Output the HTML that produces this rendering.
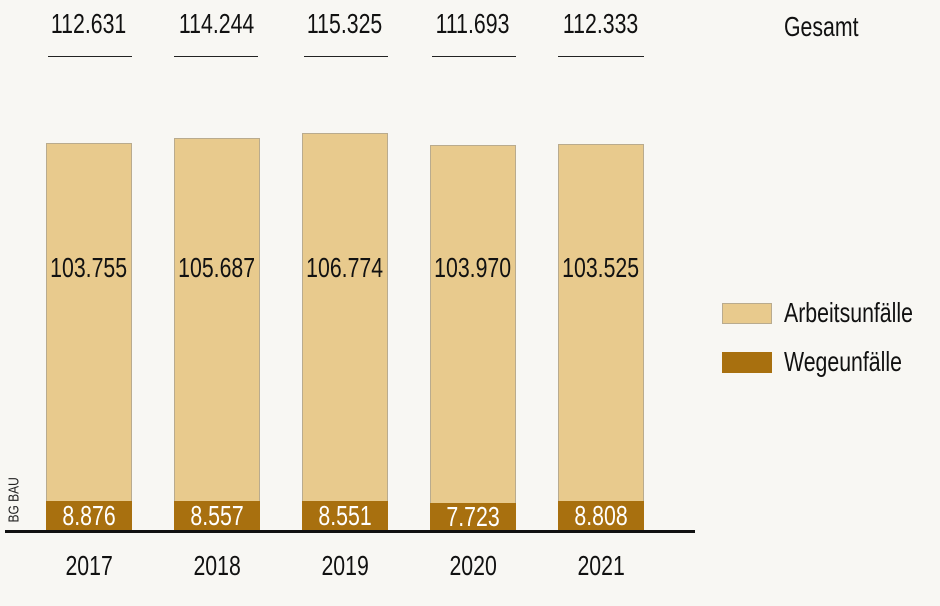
<!DOCTYPE html>
<html><head><style>
body{margin:0;width:940px;height:606px;background:#f8f7f3;position:relative;overflow:hidden;font-family:"Liberation Sans",sans-serif;}
.t{position:absolute;font-size:28px;line-height:32px;color:#111;text-align:center;white-space:nowrap;}
.t span{display:inline-block;transform:scaleX(0.76);}
.l span{transform-origin:left center;}
.bar{position:absolute;background:#e8ca8d;border:1px solid #b9ab8e;border-bottom:none;box-sizing:border-box;}
.dk{position:absolute;background:#a8700f;}
.ul{position:absolute;height:1px;background:#222;top:56px;}
</style></head><body>
<div class="bar" style="left:46px;top:143px;width:86px;height:360px"></div>
<div class="bar" style="left:174px;top:138px;width:86px;height:365px"></div>
<div class="bar" style="left:302px;top:133px;width:86px;height:370px"></div>
<div class="bar" style="left:430px;top:145px;width:86px;height:358px"></div>
<div class="bar" style="left:558px;top:144px;width:86px;height:359px"></div>
<div class="dk" style="left:46px;top:501px;width:86px;height:30px"></div>
<div class="dk" style="left:174px;top:501px;width:86px;height:30px"></div>
<div class="dk" style="left:302px;top:501px;width:86px;height:30px"></div>
<div class="dk" style="left:430px;top:503px;width:86px;height:28px"></div>
<div class="dk" style="left:558px;top:501px;width:86px;height:30px"></div>
<div class="t" style="left:36px;top:500px;width:106px;color:#fff"><span>8.876</span></div>
<div class="t" style="left:164px;top:500px;width:106px;color:#fff"><span>8.557</span></div>
<div class="t" style="left:292px;top:500px;width:106px;color:#fff"><span>8.551</span></div>
<div class="t" style="left:420px;top:501px;width:106px;color:#fff"><span>7.723</span></div>
<div class="t" style="left:548px;top:500px;width:106px;color:#fff"><span>8.808</span></div>
<div style="position:absolute;left:5px;top:530px;width:690px;height:3px;background:#111"></div>
<div class="t" style="left:36px;top:252px;width:106px"><span>103.755</span></div>
<div class="t" style="left:164px;top:252px;width:106px"><span>105.687</span></div>
<div class="t" style="left:292px;top:252px;width:106px"><span>106.774</span></div>
<div class="t" style="left:420px;top:252px;width:106px"><span>103.970</span></div>
<div class="t" style="left:548px;top:252px;width:106px"><span>103.525</span></div>
<div class="t" style="left:36px;top:8px;width:106px"><span>112.631</span></div>
<div class="t" style="left:164px;top:8px;width:106px"><span>114.244</span></div>
<div class="t" style="left:292px;top:8px;width:106px"><span>115.325</span></div>
<div class="t" style="left:420px;top:8px;width:106px"><span>111.693</span></div>
<div class="t" style="left:548px;top:8px;width:106px"><span>112.333</span></div>
<div class="ul" style="left:48px;width:84px"></div>
<div class="ul" style="left:174px;width:84px"></div>
<div class="ul" style="left:304px;width:84px"></div>
<div class="ul" style="left:432px;width:84px"></div>
<div class="ul" style="left:558px;width:86px"></div>
<div class="t l" style="left:784px;top:11px;text-align:left"><span>Gesamt</span></div>
<div class="t" style="left:36px;top:550px;width:106px"><span>2017</span></div>
<div class="t" style="left:164px;top:550px;width:106px"><span>2018</span></div>
<div class="t" style="left:292px;top:550px;width:106px"><span>2019</span></div>
<div class="t" style="left:420px;top:550px;width:106px"><span>2020</span></div>
<div class="t" style="left:548px;top:550px;width:106px"><span>2021</span></div>
<div style="position:absolute;left:722px;top:303px;width:50px;height:21px;background:#e8ca8d;border:1px solid #b9ab8e;box-sizing:border-box"></div>
<div style="position:absolute;left:722px;top:352px;width:50px;height:21px;background:#a8700f"></div>
<div class="t l" style="left:784px;top:297px;text-align:left"><span>Arbeitsunfälle</span></div>
<div class="t l" style="left:784px;top:346px;text-align:left"><span>Wegeunfälle</span></div>
<div style="position:absolute;left:-11px;top:494px;width:50px;font-size:15px;color:#222;transform:rotate(-90deg) scaleX(0.8);text-align:center;white-space:nowrap">BG BAU</div>
</body></html>
